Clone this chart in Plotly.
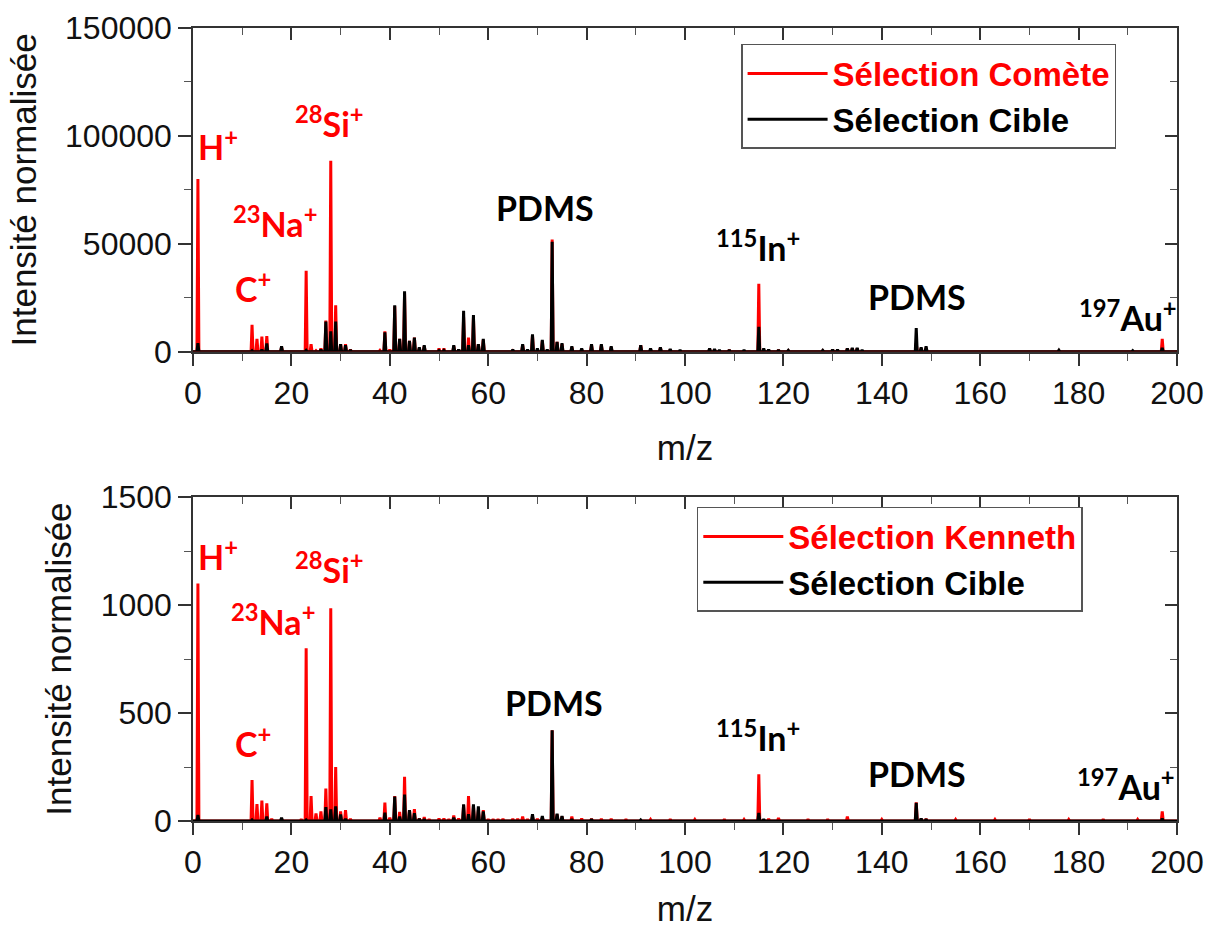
import plotly.graph_objects as go

# ---------------- data ----------------
# Top panel: Sélection Comète (red) and Sélection Cible (black)
top_comete_mz = [1, 12, 13, 14, 15, 18, 23, 24, 25, 26, 27, 28, 29, 30, 31, 32,
                 38, 39, 40, 41, 42, 43, 44, 45, 46, 47, 50, 51, 53, 54, 55, 56, 57, 58, 59,
                 65, 67, 69, 71, 73, 74, 75, 77, 79, 81, 83, 85, 91, 93, 95, 97, 105, 106, 109,
                 115, 117, 119, 121, 128, 130, 131, 133, 134, 135, 147, 148, 149, 176, 191, 197]
top_comete_int = [80000, 12500, 6000, 7000, 7200, 2000, 37500, 3500, 500, 1500, 14500, 88500, 21500, 3500, 3500, 1000,
                  600, 9500, 1000, 21000, 6000, 27000, 5000, 6500, 1500, 2500, 1500, 1500, 2500, 1000, 16000, 6500, 16000, 3500, 5500,
                  500, 3000, 7500, 5000, 52000, 4500, 3500, 2000, 1000, 3000, 3000, 2000, 3000, 1000, 1800, 1000, 1200, 1000, 800,
                  31500, 800, 800, 500, 500, 1000, 800, 1500, 1500, 1500, 4000, 1500, 1800, 500, 300, 6000]

top_cible_mz = [1, 12, 14, 15, 18, 23, 26, 27, 28, 29, 30, 31, 32,
                39, 41, 42, 43, 44, 45, 46, 47, 50, 51, 53, 54, 55, 56, 57, 58, 59,
                65, 67, 68, 69, 70, 71, 72, 73, 74, 75, 77, 79, 81, 83, 85, 91, 93, 95, 97, 99,
                105, 106, 107, 109, 112, 115, 116, 117, 119, 121, 128, 130, 131, 133, 134, 135, 136,
                147, 148, 149, 176, 191, 197]
top_cible_int = [4000, 500, 1000, 3800, 2500, 600, 1000, 14000, 9500, 14000, 3500, 3000, 800,
                 9000, 21500, 6000, 28000, 5000, 6500, 2000, 3000, 500, 600, 3000, 1000, 19000, 3000, 17000, 3500, 6000,
                 1000, 3500, 1000, 8000, 1500, 5500, 1000, 51000, 4500, 4000, 2500, 1500, 3500, 3500, 2500, 3000, 1500, 2000, 1200, 800,
                 1500, 1200, 800, 800, 800, 11500, 1500, 1000, 800, 600, 600, 1000, 900, 1500, 1800, 1800, 800,
                 11000, 2000, 2500, 700, 500, 1800]

# Bottom panel: Sélection Kenneth (red) and Sélection Cible (black)
bot_kenneth_mz = [1, 12, 13, 14, 15, 16, 18, 22, 23, 24, 25, 26, 27, 28, 29, 30, 31, 32,
                  38, 39, 40, 41, 42, 43, 44, 45, 46, 47, 48, 50, 51, 52, 53, 54, 55, 56, 57, 58, 59,
                  60, 61, 62, 63, 65, 66, 67, 68, 69, 70, 71, 73, 74, 75, 77, 79, 81, 83, 85,
                  88, 93, 97, 102, 108, 112, 115, 117, 119, 125, 129, 133, 140, 147, 148, 149,
                  155, 163, 170, 178, 185, 192, 197]
bot_kenneth_int = [1100, 190, 78, 95, 82, 10, 10, 8, 800, 115, 35, 45, 150, 985, 250, 45, 50, 10,
                   15, 85, 15, 116, 42, 205, 50, 55, 12, 18, 8, 12, 12, 8, 25, 12, 72, 115, 70, 50, 50,
                   8, 8, 8, 10, 10, 10, 20, 8, 20, 10, 15, 420, 30, 20, 20, 12, 10, 10, 10,
                   8, 7, 8, 7, 8, 7, 216, 10, 14, 8, 8, 20, 7, 87, 10, 10,
                   7, 7, 8, 7, 8, 7, 45]

bot_cible_mz = [1, 12, 15, 18, 23, 27, 28, 29, 30, 31, 39, 41, 42, 43, 44, 45, 46, 47, 53,
                55, 56, 57, 58, 59, 69, 71, 73, 74, 75, 77, 81, 91, 115, 116, 147, 148, 149, 197]
bot_cible_int = [28, 5, 20, 15, 5, 64, 54, 68, 30, 10, 39, 113, 20, 122, 50, 36, 10, 8, 15,
                 77, 31, 77, 68, 45, 31, 23, 420, 34, 23, 8, 8, 5, 37, 8, 84, 12, 8, 12]

x_ticks = [0, 20, 40, 60, 80, 100, 120, 140, 160, 180, 200]
top_y_ticks = [0, 50000, 100000, 150000]
bot_y_ticks = [0, 500, 1000, 1500]

# ---------------- helpers ----------------
RED = "#ff0000"
BLACK = "#000000"
AX = "#333333"
ARIAL = "Arial, Liberation Sans, sans-serif"
TICKFONT = dict(family=ARIAL, size=32, color="#111111")
LBLFONT = "Lato, Noto Sans, sans-serif"
LBLSIZE = 34


def spectrum(mz, inten, hw=0.2):
    pairs = sorted(zip(mz, inten))
    xs, ys = [0], [0]
    for m, h in pairs:
        xs += [m - hw, m, m + hw]
        ys += [0, h, 0]
    xs.append(200)
    ys.append(0)
    return xs, ys


fig = go.Figure()

x, y = spectrum(top_comete_mz, top_comete_int)
fig.add_trace(go.Scatter(x=x, y=y, mode="lines", line=dict(color=RED, width=3),
                         name="<span style='color:#ff0000'><b>Sélection Comète</b></span>",
                         xaxis="x", yaxis="y", legend="legend"))
x, y = spectrum(top_cible_mz, top_cible_int)
fig.add_trace(go.Scatter(x=x, y=y, mode="lines", line=dict(color=BLACK, width=3),
                         name="<b>Sélection Cible</b>",
                         xaxis="x", yaxis="y", legend="legend"))
x, y = spectrum(bot_kenneth_mz, bot_kenneth_int)
fig.add_trace(go.Scatter(x=x, y=y, mode="lines", line=dict(color=RED, width=3),
                         name="<span style='color:#ff0000'><b>Sélection Kenneth</b></span>",
                         xaxis="x2", yaxis="y2", legend="legend2"))
x, y = spectrum(bot_cible_mz, bot_cible_int)
fig.add_trace(go.Scatter(x=x, y=y, mode="lines", line=dict(color=BLACK, width=3),
                         name="<b>Sélection Cible</b>",
                         xaxis="x2", yaxis="y2", legend="legend2"))

# dummy traces so mirror axes (top / right, inward ticks) get drawn
for xa, ya in [("x3", "y"), ("x", "y3"), ("x4", "y2"), ("x2", "y4")]:
    fig.add_trace(go.Scatter(x=[None], y=[None], xaxis=xa, yaxis=ya, showlegend=False,
                             hoverinfo="skip"))

FIG_W, FIG_H = 1206, 928
TOP_DOM = [0.6210, 0.9698]
BOT_DOM = [0.1153, 0.4644]
MINOR_COL = "#555555"


def xaxis_common(**kw):
    d = dict(range=[0, 200], tickvals=x_ticks, ticktext=[str(v) for v in x_ticks],
             ticks="outside", ticklen=12, tickwidth=1.5,
             tickcolor=AX, showline=True, linecolor=AX, linewidth=2, showgrid=False,
             zeroline=False, tickfont=TICKFONT, automargin=False,
             minor=dict(dtick=10, tick0=0, ticks="outside", ticklen=7, tickwidth=1.2, tickcolor=MINOR_COL))
    d.update(kw)
    return d


def yaxis_common(rng, tv, dminor, **kw):
    d = dict(range=rng, tickvals=tv, ticktext=[str(v) for v in tv],
             ticks="outside", ticklen=13, tickwidth=1.5, tickcolor=AX,
             showline=True, linecolor=AX, linewidth=1.5, showgrid=False, zeroline=False,
             tickfont=TICKFONT, automargin=False,
             minor=dict(dtick=dminor, tick0=0, ticks="outside", ticklen=7, tickwidth=1.2, tickcolor=MINOR_COL))
    d.update(kw)
    return d


def mirror_x(over, anchor):
    return dict(overlaying=over, anchor=anchor, side="top", range=[0, 200], tickvals=x_ticks,
                ticks="inside", ticklen=12, tickwidth=1.5, tickcolor=AX, showticklabels=False,
                showline=True, linecolor=AX, linewidth=1.5, showgrid=False, zeroline=False,
                automargin=False,
                minor=dict(dtick=10, tick0=0, ticks="inside", ticklen=7, tickwidth=1.2, tickcolor=MINOR_COL))


def mirror_y(over, anchor, rng, tv, dminor):
    return dict(overlaying=over, anchor=anchor, side="right", range=rng, tickvals=tv,
                ticks="inside", ticklen=12, tickwidth=1.5, tickcolor=AX, showticklabels=False,
                showline=True, linecolor=AX, linewidth=1.5, showgrid=False, zeroline=False,
                automargin=False,
                minor=dict(dtick=dminor, tick0=0, ticks="inside", ticklen=7, tickwidth=1.2, tickcolor=MINOR_COL))


axis_title_font = dict(family=ARIAL, size=35, color="#111111")
legend_font = dict(family=ARIAL, size=33, color="#000")

fig.update_layout(
    width=FIG_W, height=FIG_H,
    margin=dict(l=193, r=29, t=0, b=0, autoexpand=False),
    paper_bgcolor="white", plot_bgcolor="white",
    showlegend=True,
    xaxis=xaxis_common(anchor="y", domain=[0, 1],
                       title=dict(text="m/z", font=axis_title_font, standoff=25)),
    yaxis=yaxis_common([0, 150000], top_y_ticks, 25000, anchor="x", domain=TOP_DOM,
                       title=dict(text="Intensité normalisée", font=axis_title_font, standoff=18)),
    xaxis2=xaxis_common(anchor="y2", domain=[0, 1],
                        title=dict(text="m/z", font=axis_title_font, standoff=25)),
    yaxis2=yaxis_common([0, 1500], bot_y_ticks, 250, anchor="x2", domain=BOT_DOM,
                        title=dict(text="Intensité normalisée", font=axis_title_font, standoff=18)),
    xaxis3=mirror_x("x", "y"),
    yaxis3=mirror_y("y", "x", [0, 150000], top_y_ticks, 25000),
    xaxis4=mirror_x("x2", "y2"),
    yaxis4=mirror_y("y2", "x2", [0, 1500], bot_y_ticks, 250),
    legend=dict(x=0.557, y=0.9526, xanchor="left", yanchor="top",
                bgcolor="white", bordercolor="#555", borderwidth=1.5,
                font=legend_font, itemwidth=80, tracegroupgap=0),
    legend2=dict(x=0.512, y=0.4537, xanchor="left", yanchor="top",
                 bgcolor="white", bordercolor="#555", borderwidth=1.5,
                 font=legend_font, itemwidth=80, tracegroupgap=0),
)

# peak labels
top_labels = [
    ("H<sup>+</sup>", 5.1, 95900, RED),
    ("<sup>28</sup>Si<sup>+</sup>", 27.8, 106500, RED),
    ("<sup>23</sup>Na<sup>+</sup>", 16.7, 60200, RED),
    ("C<sup>+</sup>", 12.2, 30000, RED),
    ("PDMS", 71.5, 66600, BLACK),
    ("<sup>115</sup>In<sup>+</sup>", 114.8, 49000, BLACK),
    ("PDMS", 147.2, 25800, BLACK),
    ("<sup>197</sup>Au<sup>+</sup>", 190.0, 16500, BLACK),
]
bot_labels = [
    ("H<sup>+</sup>", 5.1, 1230, RED),
    ("<sup>28</sup>Si<sup>+</sup>", 27.8, 1170, RED),
    ("<sup>23</sup>Na<sup>+</sup>", 16.3, 930, RED),
    ("C<sup>+</sup>", 12.2, 364, RED),
    ("PDMS", 73.4, 550, BLACK),
    ("<sup>115</sup>In<sup>+</sup>", 114.8, 392, BLACK),
    ("PDMS", 147.2, 221, BLACK),
    ("<sup>197</sup>Au<sup>+</sup>", 189.6, 165, BLACK),
]
for txt, xv, yv, col in top_labels:
    fig.add_annotation(x=xv, y=yv, xref="x", yref="y", text=f"<b>{txt}</b>", showarrow=False,
                       font=dict(family=LBLFONT, size=LBLSIZE, color=col))
for txt, xv, yv, col in bot_labels:
    fig.add_annotation(x=xv, y=yv, xref="x2", yref="y2", text=f"<b>{txt}</b>", showarrow=False,
                       font=dict(family=LBLFONT, size=LBLSIZE, color=col))

# remove the default 8px page margin so the figure fills the 1206x928 window exactly
fig.write_html("out.html", config={"displayModeBar": False},
               post_script="document.body.style.margin='0';document.body.style.overflow='hidden';")
